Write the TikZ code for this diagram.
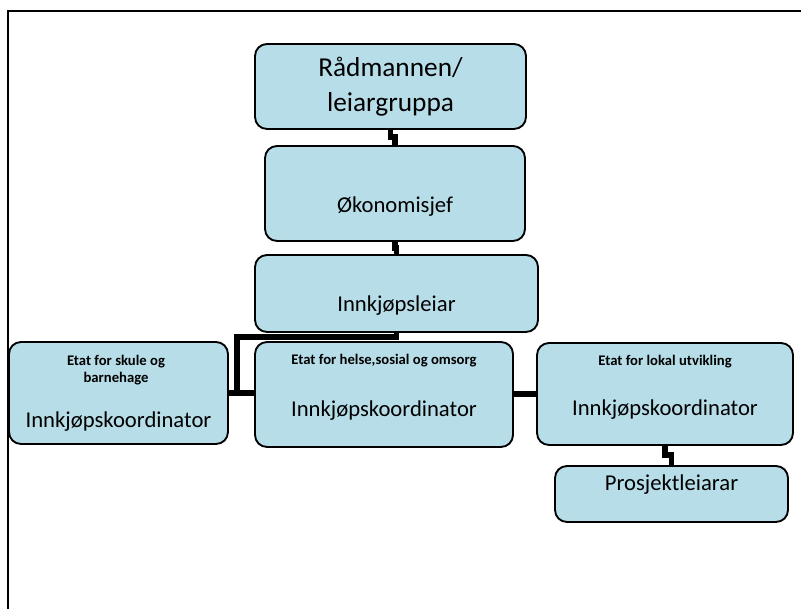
\documentclass[tikz,border=0pt]{standalone}
\usepackage{fontspec}
\setmainfont{Carlito}
\usetikzlibrary{positioning}

\definecolor{boxfill}{HTML}{B7DEE8}

\begin{document}
\begin{tikzpicture}[x=0.75pt, y=-0.75pt,
        orgbox/.style={draw, line width=1.4pt, fill=boxfill, rounded corners=9pt, inner sep=0pt, outer sep=0pt},
        maintext/.style={inner sep=0pt, font=\fontsize{17}{20}\selectfont},
        headtext/.style={inner sep=0pt, align=center, font=\bfseries\fontsize{11}{12.75}\selectfont},
        conn/.style={line width=4.2pt}]
        % Page size and the frame
            \useasboundingbox (0,0) rectangle (801,609);
            \draw[line width=1.6pt] (8,609) -- (8,11) -- (801,11);

        %%% Top of the chart
            % Leader group
            \node[orgbox, minimum width=203.25pt, minimum height=63.75pt, align=center,
                  font=\fontsize{20.5}{26}\selectfont] (radmann) at (390.5,86.5) {Rådmannen/\\leiargruppa};

            % Finance
            \node[orgbox, minimum width=195pt, minimum height=71.25pt] (okonomi) at (395,193.5) {};
            \node[maintext] (okonomiText) at (395,207) {Økonomisjef};

            % Purchasing leader
            \node[orgbox, minimum width=212.25pt, minimum height=57.75pt] (innkjop) at (396.5,293.5) {};
            \node[maintext] (innkjopText) at (396.5,306) {Innkjøpsleiar};

        %%% The three departments
            % School and kindergarten
            \node[orgbox, minimum width=164.25pt, minimum height=76.5pt] (skule) at (118.5,393) {};
            \node[headtext] (skuleHead) at (116,370) {Etat for skule og\\barnehage};
            \node[maintext] (skuleText) at (118.5,422) {Innkjøpskoordinator};

            % Health and care
            \node[orgbox, minimum width=193.5pt, minimum height=78.75pt] (helse) at (384,394.5) {};
            \node[headtext] (helseHead) at (384,361) {Etat for helse,sosial og omsorg};
            \node[maintext] (helseText) at (384,411) {Innkjøpskoordinator};

            % Local development
            \node[orgbox, minimum width=192pt, minimum height=76.5pt] (lokal) at (665,394) {};
            \node[headtext] (lokalHead) at (665,362) {Etat for lokal utvikling};
            \node[maintext] (lokalText) at (665,410) {Innkjøpskoordinator};

            % Project leaders
            \node[orgbox, minimum width=174.75pt, minimum height=42pt] (prosjekt) at (671.5,494) {};
            \node[maintext] (prosjektText) at (671.5,485) {Prosjektleiarar};

        %%% Connectors
            \coordinate (split) at (237,394);
            \draw[conn] (radmann.south) -- ++(0,8) -| (okonomi.north);
            \draw[conn] (okonomi.south) -- ++(0,7) -| (innkjop.north);
            \draw[conn] (innkjop.south) -- ++(0,5) -| (split);
            \draw[conn] (skule.east) -- (helse.west |- skule.east);
            \draw[conn] (helse.east |- lokal.west) -- (lokal.west);
            \draw[conn] (lokal.south) -- ++(0,10) -| (prosjekt.north);
\end{tikzpicture}
\end{document}
